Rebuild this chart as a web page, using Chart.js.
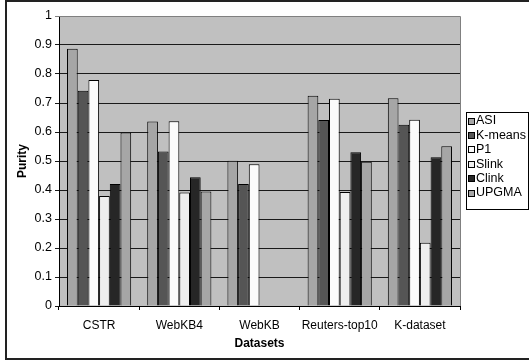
<!DOCTYPE html>
<html>
<head>
<meta charset="utf-8">
<script src="https://cdn.jsdelivr.net/npm/chart.js@4/dist/chart.umd.min.js"></script>
<style>
  html, body { margin: 0; padding: 0; background: #ffffff; }
  #wrap { width: 529px; height: 362px; }
</style>
</head>
<body>
<div id="wrap"><canvas id="c" width="529" height="362"></canvas></div>
<script>
// Purity of each clustering method per dataset
const categories = ['CSTR', 'WebKB4', 'WebKB', 'Reuters-top10', 'K-dataset'];
const asi    = [0.887, 0.636, 0.501, 0.725, 0.716];
const kmeans = [0.742, 0.533, 0.421, 0.641, 0.625];
const p1     = [0.779, 0.637, 0.489, 0.715, 0.642];
const slink  = [0.379, 0.391, null, 0.393, 0.218];
const clink  = [0.421, 0.444, null, 0.530, 0.513];
const upgma  = [0.598, 0.395, null, 0.497, 0.551];
const yTickLabels = ['0', '0.1', '0.2', '0.3', '0.4', '0.5', '0.6', '0.7', '0.8', '0.9', '1'];

const FONT = '"Liberation Sans", Arial, sans-serif';

const series = [
  { label: 'ASI',     data: asi,    color: '#a6a6a6' },
  { label: 'K-means', data: kmeans, color: '#555555' },
  { label: 'P1',      data: p1,     color: '#fbfbfb' },
  { label: 'Slink',   data: slink,  color: '#eeeeee' },
  { label: 'Clink',   data: clink,  color: '#262626' },
  { label: 'UPGMA',   data: upgma,  color: '#a6a6a6' }
];

// Page frame, grey plot background and the plot's top/right edge
const framePlugin = {
  id: 'frame',
  beforeDraw(chart) {
    const ctx = chart.ctx;
    const a = chart.chartArea;
    ctx.save();
    ctx.fillStyle = '#ffffff';
    ctx.fillRect(0, 0, chart.width, chart.height);
    ctx.strokeStyle = '#222222';
    ctx.lineWidth = 2;
    ctx.strokeRect(6, 1, chart.width + 10, 358);
    ctx.fillStyle = '#c0c0c0';
    ctx.fillRect(a.left, a.top, a.right - a.left, a.bottom - a.top);
    ctx.restore();
  },
  beforeDatasetsDraw(chart) {
    const ctx = chart.ctx;
    const a = chart.chartArea;
    ctx.save();
    ctx.strokeStyle = '#808080';
    ctx.lineWidth = 1;
    ctx.beginPath();
    ctx.moveTo(a.left, Math.round(a.top) + 0.5);
    ctx.lineTo(Math.round(a.right) + 0.5, Math.round(a.top) + 0.5);
    ctx.lineTo(Math.round(a.right) + 0.5, a.bottom);
    ctx.stroke();
    ctx.restore();
  }
};

// Boxed legend to the right of the plot
const boxLegend = {
  id: 'boxLegend',
  afterDraw(chart) {
    const ctx = chart.ctx;
    const x0 = 466, y0 = 112, w = 62, h = 97;
    ctx.save();
    ctx.fillStyle = '#ffffff';
    ctx.fillRect(x0, y0, w, h);
    ctx.strokeStyle = '#000000';
    ctx.lineWidth = 1;
    ctx.strokeRect(x0 + 0.5, y0 + 0.5, w, h);
    ctx.font = '12.5px ' + FONT;
    ctx.textBaseline = 'middle';
    ctx.fillStyle = '#000000';
    chart.data.datasets.forEach((ds, i) => {
      const cy = 121 + i * 14.4;
      ctx.fillStyle = ds.backgroundColor;
      ctx.fillRect(468.5, Math.round(cy - 3.5) + 0.5, 6, 6);
      ctx.strokeStyle = '#000000';
      ctx.strokeRect(468.5, Math.round(cy - 3.5) + 0.5, 6, 6);
      ctx.fillStyle = '#000000';
      ctx.fillText(ds.label, 476, cy);
    });
    ctx.restore();
  }
};

new Chart(document.getElementById('c'), {
  type: 'bar',
  data: {
    labels: categories,
    datasets: series.map(s => ({
      label: s.label,
      data: s.data,
      backgroundColor: s.color,
      borderColor: '#000000',
      borderWidth: 1,
      categoryPercentage: 0.8,
      barPercentage: 1.0
    }))
  },
  options: {
    responsive: false,
    animation: false,
    devicePixelRatio: 1,
    layout: { padding: { left: 0, top: 16, right: 69, bottom: 0 } },
    plugins: {
      legend: { display: false },
      tooltip: { enabled: false },
      title: { display: false }
    },
    scales: {
      x: {
        offset: true,
        afterFit(scale) { scale.height = 56; },
        grid: {
          offset: true,
          drawOnChartArea: false,
          drawTicks: true,
          tickLength: 4,
          color: '#000000'
        },
        border: { display: true, color: '#000000', width: 1 },
        ticks: {
          color: '#000000',
          padding: 8,
          maxRotation: 0,
          autoSkip: false,
          font: { family: FONT, size: 12 }
        },
        title: {
          display: true,
          text: 'Datasets',
          color: '#000000',
          padding: { top: 0, bottom: 11 },
          font: { family: FONT, size: 12, weight: 'bold' }
        }
      },
      y: {
        min: 0,
        max: 1,
        afterFit(scale) { scale.width = 59; },
        grid: {
          drawTicks: true,
          tickLength: 4,
          color: (ctx) => (ctx.tick && ctx.tick.value >= 1 ? '#808080' : '#1a1a1a'),
          lineWidth: 1
        },
        border: { display: true, color: '#000000', width: 1 },
        ticks: {
          stepSize: 0.1,
          color: '#000000',
          padding: 3,
          font: { family: FONT, size: 12.5 },
          callback: (v, i) => yTickLabels[i]
        },
        title: {
          display: true,
          text: 'Purity',
          color: '#000000',
          padding: { top: 15, bottom: 0 },
          font: { family: FONT, size: 12, weight: 'bold' }
        }
      }
    }
  },
  plugins: [framePlugin, boxLegend]
});
</script>
</body>
</html>
